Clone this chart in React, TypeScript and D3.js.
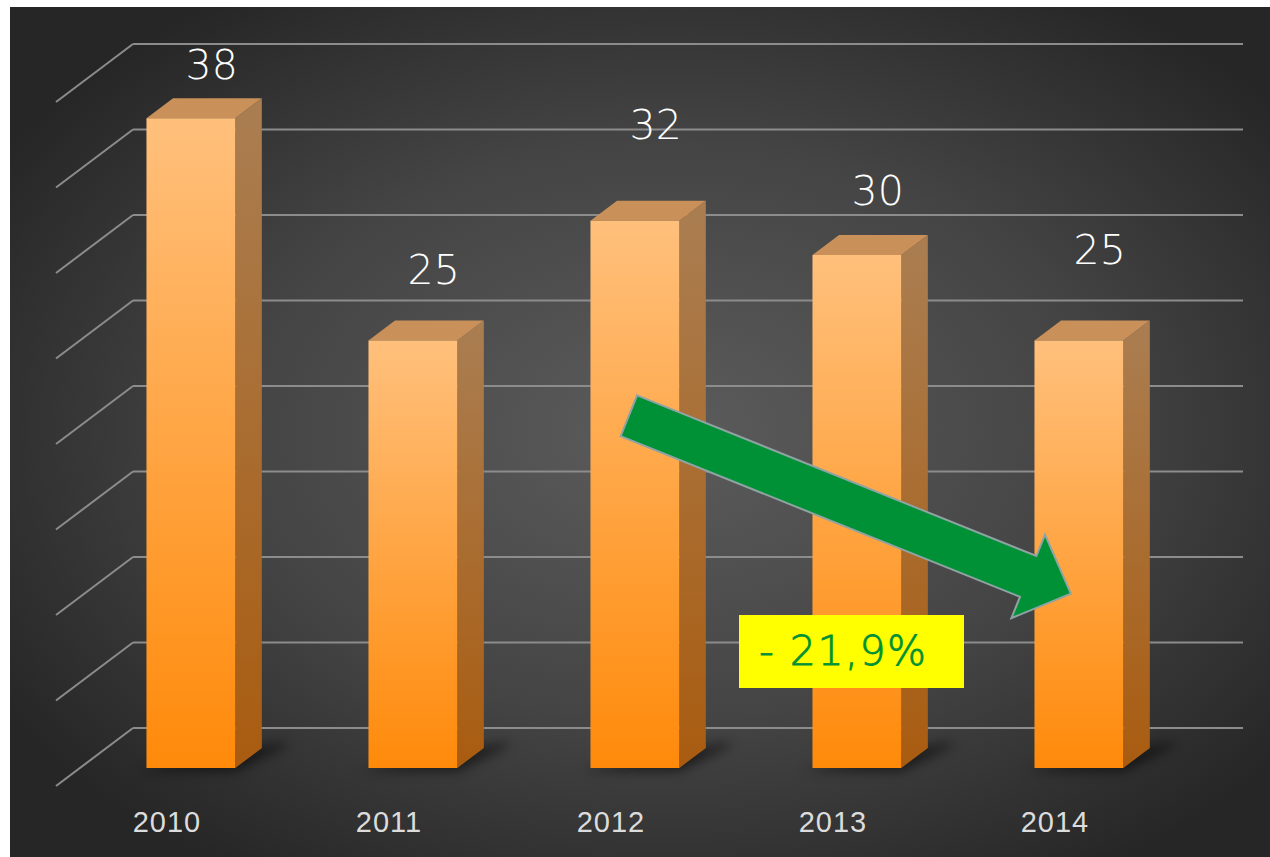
import React from 'react';
import * as d3 from 'd3';

const years = ['2010', '2011', '2012', '2013', '2014'];
const values = [38, 25, 32, 30, 25];
const gridTicks = [0, 5, 10, 15, 20, 25, 30, 35, 40];
// how far each value label sits above its bar (px), as placed in the original
const labelLift = [53, 71, 96, 64, 91];
// trend arrow: from [year, value] to [year, value]
const arrowFrom: [string, number] = ['2012', 20.6];
const arrowTo: [string, number] = ['2014', 10.2];
const trendText = '- 21,9%';

const W = 1270;
const H = 857;
const DX = -77; // depth vector (wall -> front floor)
const DY = 58;
const FRONT = 0.69;
const BACK = 0.345;

export default function App() {
  const x = d3.scaleBand().domain(years).range([133, 1243]).paddingInner(0.6).paddingOuter(0.3);
  const y = d3.scaleLinear().domain([0, 40]).range([728, 44]);
  const p = (px: number, py: number, d: number): [number, number] => [px + DX * d, py + DY * d];
  const pts = (a: [number, number][]) => a.map(q => q.join(',')).join(' ');

  const bars = years.map((yr, i) => {
    const x0 = x(yr)!;
    const x1 = x0 + x.bandwidth();
    const yt = y(values[i]);
    const yb = y(0);
    const front = [p(x0, yt, FRONT), p(x1, yt, FRONT), p(x1, yb, FRONT), p(x0, yb, FRONT)];
    const top = [p(x0, yt, BACK), p(x1, yt, BACK), p(x1, yt, FRONT), p(x0, yt, FRONT)];
    const side = [p(x1, yt, FRONT), p(x1, yt, BACK), p(x1, yb, BACK), p(x1, yb, FRONT)];
    const shadow = [p(x0 - 6, yb, FRONT + 0.05), p(x1 + 4, yb, FRONT + 0.05), p(x1 + 22, yb, BACK - 0.05), p(x1 + 14, yb, BACK - 0.1)];
    return { yr, i, front, top, side, shadow, yt };
  });

  // arrow geometry
  const ax = (yr: string) => x(yr)! + x.bandwidth() / 2 + DX * FRONT;
  const [tx0, ty0] = [ax(arrowFrom[0]) - 6, y(arrowFrom[1]) + DY * FRONT];
  const [tx1, ty1] = [ax(arrowTo[0]) - 8, y(arrowTo[1]) + DY * FRONT];
  const len = Math.hypot(tx1 - tx0, ty1 - ty0);
  const ang = (Math.atan2(ty1 - ty0, tx1 - tx0) * 180) / Math.PI;
  const sw = 22, hw = 45, hl = 46;
  const arrowShape: [number, number][] = [
    [0, -sw], [len - hl, -sw], [len - hl, -hw], [len, 0], [len - hl, hw], [len - hl, sw], [0, sw],
  ];

  return (
    <svg width={W} height={H} style={{ position: 'absolute', left: 0, top: 0 }}>
      <defs>
        <radialGradient id="bg" cx="52%" cy="50%" r="62%">
          <stop offset="0%" stopColor="#5c5c5c" />
          <stop offset="55%" stopColor="#444" />
          <stop offset="100%" stopColor="#262626" />
        </radialGradient>
        <linearGradient id="front" x1="0" y1="0" x2="0" y2="1">
          <stop offset="0%" stopColor="#ffc07c" />
          <stop offset="100%" stopColor="#ff8a0a" />
        </linearGradient>
        <linearGradient id="side" x1="0" y1="0" x2="0" y2="1">
          <stop offset="0%" stopColor="#aa7e52" />
          <stop offset="100%" stopColor="#a95c10" />
        </linearGradient>
        <filter id="blur" x="-30%" y="-100%" width="160%" height="300%">
          <feGaussianBlur stdDeviation="6" />
        </filter>
      </defs>
      <rect x={0} y={0} width={W} height={H} fill="#fff" />
      <rect x={10} y={7} width={W - 10} height={H - 7} fill="url(#bg)" />

      <g stroke="#8c8c8c" strokeWidth={2} fill="none">
        {gridTicks.map(t => {
          const [lx, ly] = p(133, y(t), 1);
          return (
            <g key={t}>
              <line x1={133} x2={1243} y1={y(t)} y2={y(t)} />
              <line x1={133} y1={y(t)} x2={lx} y2={ly} />
            </g>
          );
        })}
      </g>

      {bars.map(b => (
        <polygon key={'s' + b.yr} points={pts(b.shadow)} fill="#000" opacity={0.55} filter="url(#blur)" />
      ))}

      {bars.map(b => (
        <g key={b.yr} strokeLinejoin="round">
          <polygon points={pts(b.side)} fill="url(#side)" />
          <polygon points={pts(b.top)} fill="#c99159" />
          <polygon points={pts(b.front)} fill="url(#front)" />
        </g>
      ))}

      {bars.map(b => {
        const cx = x(b.yr)! + x.bandwidth() / 2 + DX * 0.42;
        return (
          <text key={'v' + b.yr} x={cx} y={b.yt + DY * FRONT - labelLift[b.i]} textAnchor="middle"
            dominantBaseline="central" fill="#fff" fontFamily="'DejaVu Sans', sans-serif" fontWeight={200} fontSize={41}>
            {values[b.i]}
          </text>
        );
      })}

      {years.map(yr => (
        <text key={'c' + yr} x={x(yr)! + x.bandwidth() / 2 + DX} y={822} textAnchor="middle" dominantBaseline="central"
          fill="#dcdcdc" fontFamily="'Liberation Sans', Arial, sans-serif" fontSize={29} letterSpacing={1}>
          {yr}
        </text>
      ))}

      <polygon transform={`translate(${tx0},${ty0}) rotate(${ang})`} points={pts(arrowShape)}
        fill="#009136" stroke="#8fa3a3" strokeWidth={2} />

      <rect x={739} y={615} width={225} height={73} fill="#ffff00" />
      <text x={759} y={665} fill="#009136" stroke="#009136" strokeWidth={0.8} letterSpacing={1.5}
        fontFamily="'DejaVu Sans', sans-serif" fontWeight={200} fontSize={41}>
        {trendText}
      </text>
    </svg>
  );
}
